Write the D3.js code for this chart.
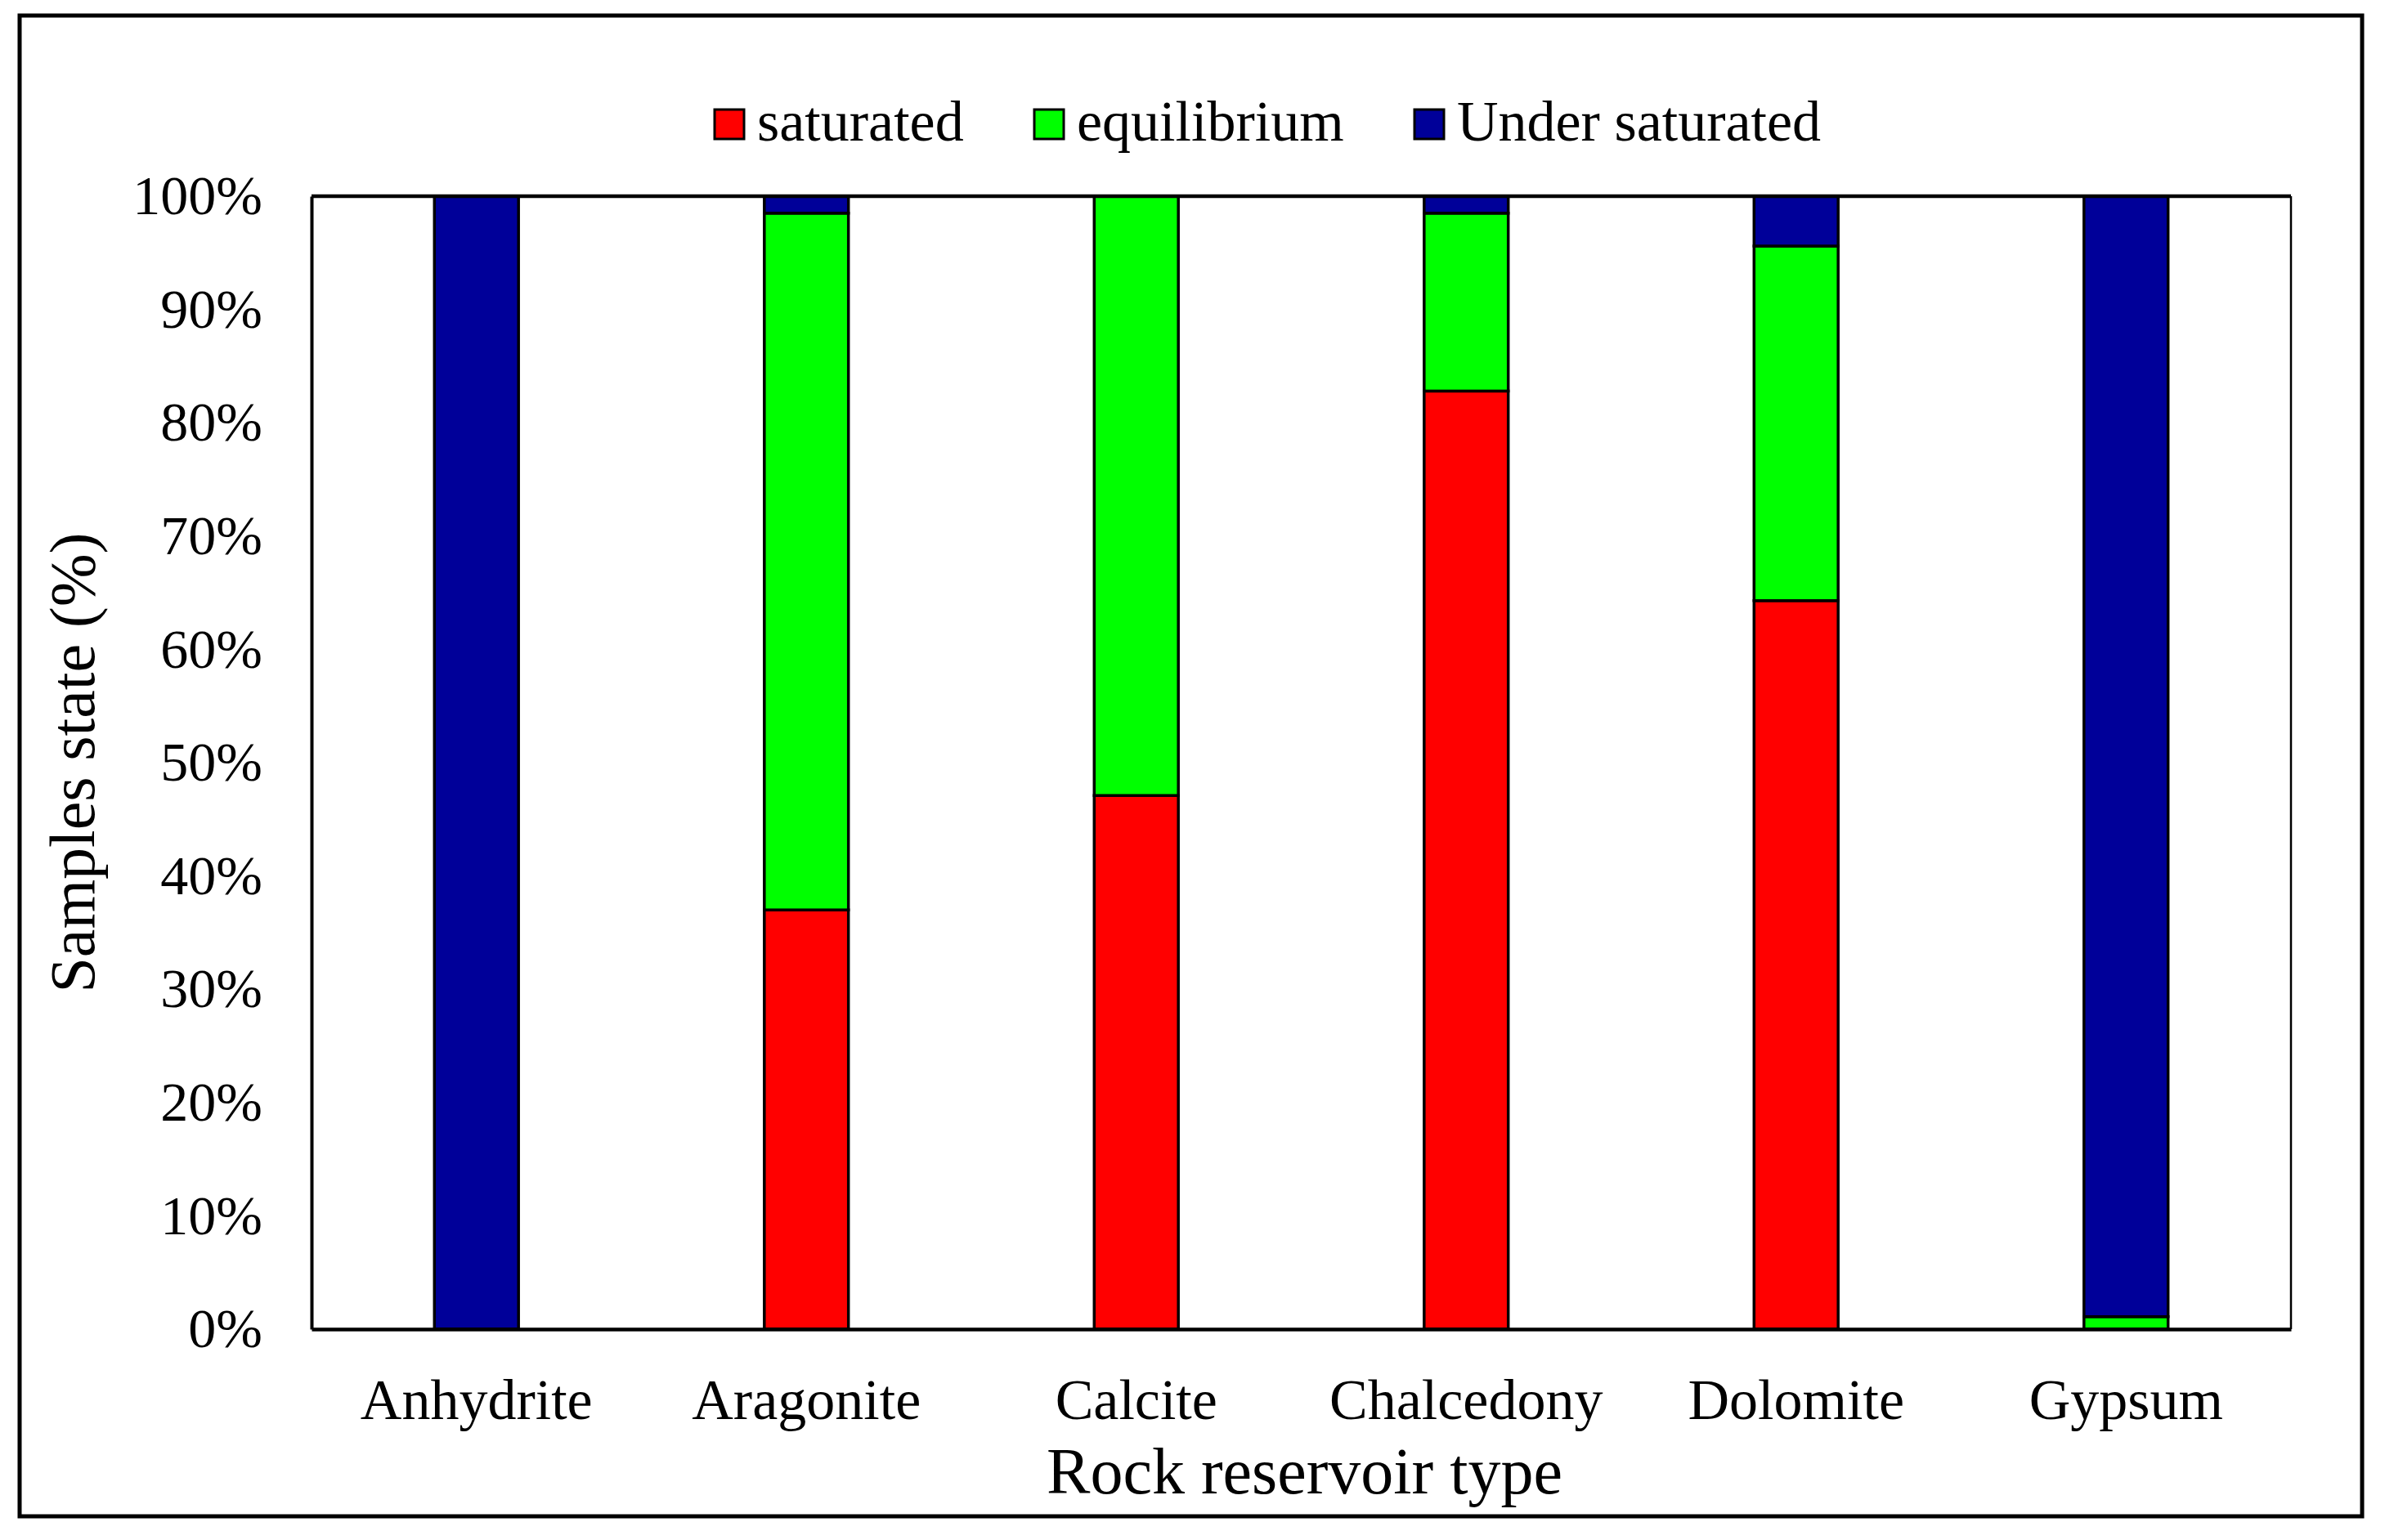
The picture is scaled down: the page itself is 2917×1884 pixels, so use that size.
<!DOCTYPE html>
<html>
<head>
<meta charset="utf-8">
<script src="https://cdn.jsdelivr.net/npm/d3@7/dist/d3.min.js"></script>
<style>
  html, body { margin: 0; padding: 0; background: #fff; }
  svg { display: block; }
  text { font-family: "Liberation Serif", "Times New Roman", serif; fill: #000; }
</style>
</head>
<body>
<script>
// ---- data ----
const categories = ["Anhydrite", "Aragonite", "Calcite", "Chalcedony", "Dolomite", "Gypsum"];
const seriesNames = ["saturated", "equilibrium", "Under saturated"];
const saturated      = [0,   37.0, 47.1, 82.8, 64.3, 0];
const equilibrium    = [0,   61.5, 52.9, 15.7, 31.3, 1.1];
const underSaturated = [100, 1.5,  0,    1.5,  4.4,  98.9];
const yTicks = [0, 10, 20, 30, 40, 50, 60, 70, 80, 90, 100];
const seriesColors = ["#FF0000", "#00FF00", "#000099"];
const xTitle = "Rock reservoir type";
const yTitle = "Samples state (%)";

// ---- layout ----
const W = 2917, H = 1884;
const plot = { left: 381, right: 2802, top: 240, bottom: 1626 };

const svg = d3.select("body").append("svg").attr("width", W).attr("height", H);

// outer frame
svg.append("rect").attr("x", 24).attr("y", 19).attr("width", 2889 - 24).attr("height", 1855 - 19)
  .attr("fill", "#fff").attr("stroke", "#000").attr("stroke-width", 5);

const x = d3.scaleBand().domain(categories).range([plot.left, plot.right]).paddingInner(0.745).paddingOuter(0.3725);
const y = d3.scaleLinear().domain([0, 100]).range([plot.bottom, plot.top]);

const table = categories.map((c, i) => ({
  cat: c,
  "saturated": saturated[i],
  "equilibrium": equilibrium[i],
  "Under saturated": underSaturated[i]
}));
const stacked = d3.stack().keys(seriesNames)(table);

// plot area background
svg.append("rect").attr("x", plot.left).attr("y", plot.top)
  .attr("width", plot.right - plot.left).attr("height", plot.bottom - plot.top)
  .attr("fill", "#fff");

// bars
const g = svg.append("g");
stacked.forEach((layer, si) => {
  g.selectAll(null).data(layer.filter(d => d[1] - d[0] > 0)).enter().append("rect")
    .attr("x", d => x(d.data.cat))
    .attr("width", x.bandwidth())
    .attr("y", d => y(d[1]))
    .attr("height", d => y(d[0]) - y(d[1]))
    .attr("fill", seriesColors[si])
    .attr("stroke", "#000")
    .attr("stroke-width", 3.5);
});

// plot border
svg.append("line").attr("x1", plot.left).attr("x2", plot.right).attr("y1", plot.top).attr("y2", plot.top)
  .attr("stroke", "#000").attr("stroke-width", 4.5);
svg.append("line").attr("x1", plot.right).attr("x2", plot.right).attr("y1", plot.top).attr("y2", plot.bottom)
  .attr("stroke", "#000").attr("stroke-width", 2.5);

// y axis
const yAxis = d3.axisLeft(y).tickValues(yTicks).tickSize(0).tickPadding(60).tickFormat(d => d + "%");
const yg = svg.append("g").attr("transform", `translate(${plot.left},0)`).call(yAxis);
yg.select(".domain").attr("stroke", "#000").attr("stroke-width", 4);
yg.selectAll("text").style("font-family", '"Liberation Serif", serif').attr("font-size", 68).attr("fill", "#000");

// x axis
const xAxis = d3.axisBottom(x).tickSize(0).tickPadding(60);
const xg = svg.append("g").attr("transform", `translate(0,${plot.bottom})`).call(xAxis);
xg.select(".domain").attr("stroke", "#000").attr("stroke-width", 4.5);
xg.selectAll("text").style("font-family", '"Liberation Serif", serif').attr("font-size", 70).attr("fill", "#000");

// axis titles
svg.append("text").attr("x", (plot.left + plot.right) / 2 + 4).attr("y", 1827)
  .attr("text-anchor", "middle").attr("font-size", 80).text(xTitle);
svg.append("text").attr("transform", `translate(115,${(plot.top + plot.bottom) / 2}) rotate(-90)`)
  .attr("text-anchor", "middle").attr("font-size", 78).text(yTitle);

// legend
const legendX = [874, 1265, 1730];
const leg = svg.append("g");
seriesNames.forEach((n, i) => {
  leg.append("rect").attr("x", legendX[i]).attr("y", 134).attr("width", 36).attr("height", 36)
    .attr("fill", seriesColors[i]).attr("stroke", "#000").attr("stroke-width", 3);
  leg.append("text").attr("x", legendX[i] + 52).attr("y", 172).attr("font-size", 70).text(n);
});
</script>
</body>
</html>
